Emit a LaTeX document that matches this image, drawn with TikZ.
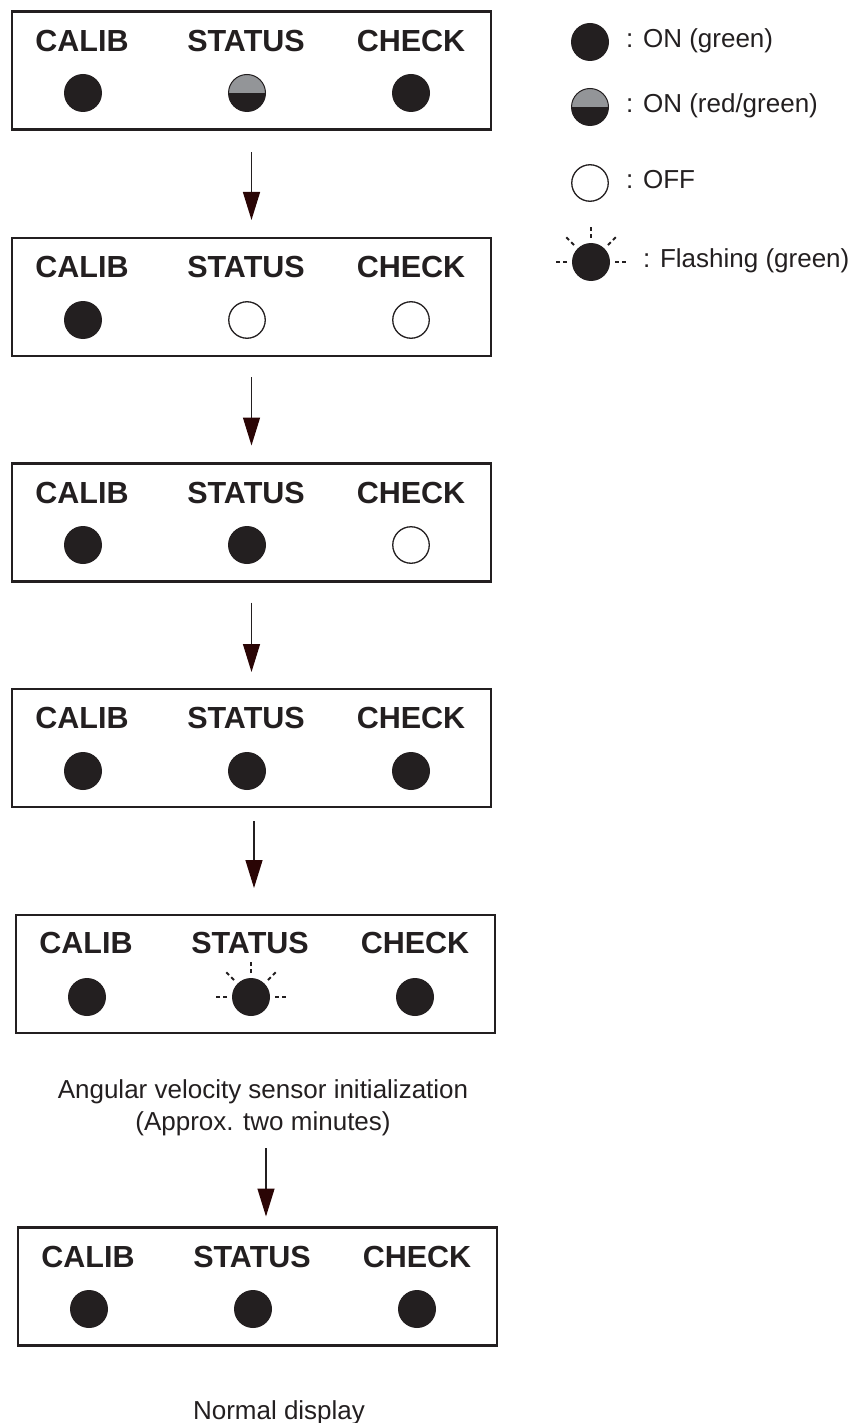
\documentclass[tikz,border=0pt]{standalone}
\usepackage{fontspec}
\setmainfont{Liberation Sans}
\usetikzlibrary{arrows.meta}
\definecolor{ink}{HTML}{231F20}
\definecolor{ledgray}{HTML}{939598}
\definecolor{tipcol}{HTML}{2A0505}
\tikzset{
  panel/.style={draw=ink, line width=2.2pt, rectangle, inner sep=0pt, outer sep=0pt,
    minimum width=479pt, minimum height=118pt},
  lab/.style={anchor=base, inner sep=0pt, text=ink, font=\fontsize{30.5}{36}\selectfont\bfseries},
  txt/.style={inner sep=0pt, text=ink, font=\fontsize{26}{32}\selectfont},
  ledon/.style={circle, fill=ink, minimum size=38pt, inner sep=0pt, outer sep=0pt},
  ledoff/.style={circle, draw=ink, line width=1.3pt, fill=white, minimum size=36.5pt, inner sep=0pt, outer sep=0pt},
  ledhalf/.style={circle, draw=ink, line width=1pt, minimum size=37pt, inner sep=0pt, outer sep=0pt,
    path picture={
      \fill[ledgray] (path picture bounding box.north west) rectangle (path picture bounding box.east);
      \fill[ink] (path picture bounding box.west) rectangle (path picture bounding box.south east);
    }},
  ray/.style={draw=ink, line width=1.8pt, dash pattern=on 4pt off 3pt},
  arr/.style={draw=ink, line width=1.3pt, -{Triangle[length=28pt, width=17pt, fill=tipcol, color=tipcol]}},
}
\newcommand{\flashrays}[1]{%
  \foreach \a in {0,45,90,135,180} {\draw[ray] (#1.center) ++(\a:24pt) -- ++(\a:13pt);}%
}
% #1 name, #2 box cx, #3 box cy, #4 label baseline y, #5 led y, #6 x offset, #7 #8 #9 led styles
\newcommand{\ledpanel}[9]{%
  \node[panel] (#1) at (#2,#3) {};
  \node[lab] (#1-l1) at (82+#6,#4) {CALIB};
  \node[lab] (#1-l2) at (246+#6,#4) {STATUS};
  \node[lab] (#1-l3) at (411+#6,#4) {CHECK};
  \node[#7] (#1-d1) at (83+#6,#5) {};
  \node[#8] (#1-d2) at (247+#6,#5) {};
  \node[#9] (#1-d3) at (411+#6,#5) {};
}
\begin{document}
\begin{tikzpicture}[x=1pt,y=-1pt]
\useasboundingbox (0,0) rectangle (853,1423);
% panels
\ledpanel{p1}{251.5}{70.5}{52}{93}{0}{ledon}{ledhalf}{ledon}
\ledpanel{p2}{251.5}{297}{277}{320}{0}{ledon}{ledoff}{ledoff}
\ledpanel{p3}{251.5}{522.5}{503}{545}{0}{ledon}{ledon}{ledoff}
\ledpanel{p4}{251.5}{748}{728}{771}{0}{ledon}{ledon}{ledon}
\ledpanel{p5}{255.5}{974}{953}{997}{4}{ledon}{ledon}{ledon}
\flashrays{p5-d2}
\ledpanel{p6}{257.5}{1286.5}{1267}{1309}{6}{ledon}{ledon}{ledon}
% texts
\node[txt, anchor=base] (t1) at (263,1098) {Angular velocity sensor initialization};
\node[txt, anchor=base] (t2) at (263,1130) {(Approx. two minutes)};
\node[txt, anchor=base] (t3) at (279,1419) {Normal display};
% arrows
\draw[arr] ([yshift=-23pt]p1.south) -- ([yshift=18pt]p2.north);
\draw[arr] ([yshift=-21pt]p2.south) -- ([yshift=18pt]p3.north);
\draw[arr] ([yshift=-21pt]p3.south) -- ([yshift=17pt]p4.north);
\draw[arr] ([xshift=2.5pt,yshift=-14pt]p4.south) -- ([xshift=-1.5pt,yshift=27pt]p5.north);
\coordinate (a5s) at (266,1148);
\draw[arr, shorten >=11pt] (a5s) -- (a5s |- p6.north);
% legend
\node[ledon] (g1) at (590,42) {};
\node[txt, anchor=base west] (g1t) at (626,48) {: ON (green)};
\node[ledhalf] (g2) at (590,107) {};
\node[txt, anchor=base west] (g2t) at (626,113) {: ON (red/green)};
\node[ledoff] (g3) at (590,183) {};
\node[txt, anchor=base west] (g3t) at (626,189) {: OFF};
\node[ledon] (g4) at (591,262) {};
\flashrays{g4}
\node[txt, anchor=base west] (g4t) at (643,268) {: Flashing (green)};
\end{tikzpicture}
\end{document}
